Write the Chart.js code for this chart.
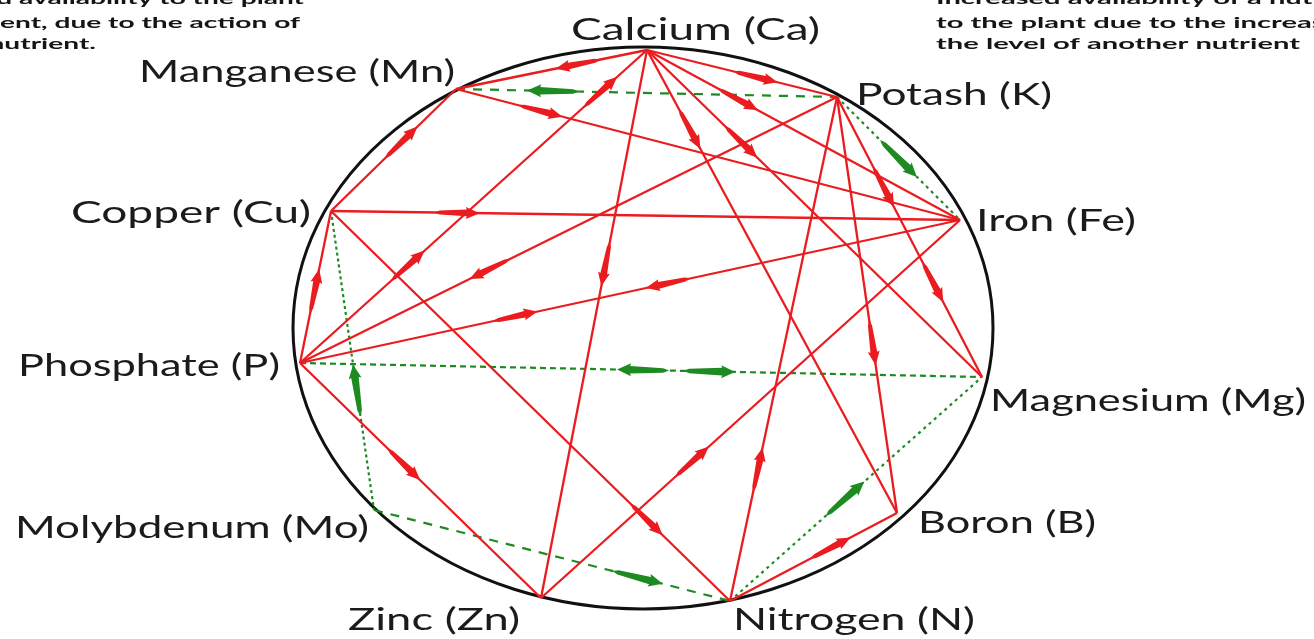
<!DOCTYPE html>
<html><head><meta charset="utf-8">
<script src="https://cdn.jsdelivr.net/npm/chart.js@4.4.1/dist/chart.umd.min.js"></script>
<style>html,body{margin:0;padding:0;background:#fff;overflow:hidden}canvas{display:block}</style>
</head><body>
<canvas id="c" width="1314" height="639"></canvas>
<script>
// ---------------- DATA ----------------
// Nutrient nodes (0 Ca, 1 Mn, 2 K, 3 Cu, 4 Fe, 5 P, 6 Mg, 7 Mo, 8 B, 9 Zn, 10 N)
const nutrients = ['Calcium (Ca)', 'Manganese (Mn)', 'Potash (K)', 'Copper (Cu)', 'Iron (Fe)',
  'Phosphate (P)', 'Magnesium (Mg)', 'Molybdenum (Mo)', 'Boron (B)', 'Zinc (Zn)', 'Nitrogen (N)'];
const nodeX = [647, 456, 837, 331, 960, 300, 982, 374, 897, 541, 730];
const nodeY = [50, 89, 97, 211, 220, 363, 377, 510, 513, 598, 601];

// Antagonism (red) edges: from-node / to-node
const antagonismFrom = [0, 0, 0, 0, 0, 0, 0, 1, 1, 2, 2, 2, 2, 3, 3, 3, 5, 5, 4, 10];
const antagonismTo   = [1, 5, 9, 2, 4, 8, 6, 3, 4, 6, 8, 10, 5, 5, 4, 10, 4, 9, 9, 8];
// Antagonism arrows: edge index, position along edge (0..1), direction (+1 toward "to")
const antArrowEdge = [0, 1, 1, 2, 3, 4, 5, 6, 7, 8, 9, 9, 10, 11, 12, 13, 14, 15, 16, 16, 17, 18, 19];
const antArrowPos  = [0.36, 0.135, 0.69, 0.39, 0.57, 0.29, 0.17, 0.28, 0.44, 0.167, 0.32, 0.66, 0.59, 0.74, 0.646, 0.53, 0.2, 0.79, 0.326, 0.558, 0.43, 0.64, 0.6];
const antArrowDir  = [1, -1, -1, 1, 1, 1, 1, 1, -1, 1, 1, 1, 1, -1, 1, -1, 1, 1, 1, -1, 1, -1, 1];

// Stimulation (green) edges
const stimulationFrom = [1, 2, 5, 3, 7, 10];
const stimulationTo   = [2, 4, 6, 7, 10, 6];
const stimArrowEdge = [0, 1, 2, 2, 3, 4, 5];
const stimArrowPos  = [0.255, 0.5, 0.503, 0.6, 0.6, 0.74, 0.456];
const stimArrowDir  = [-1, 1, -1, 1, -1, 1, 1];

// Legend text fragments (cut off at the image edges)
const noteLeft  = ['Decreased availability to the plant', 'of a nutrient, due to the action of', 'another nutrient.'];
const noteRight = ['Increased availability of a nutrient', 'to the plant due to the increase in', 'the level of another nutrient'];

// ---------------- STYLE / LAYOUT ----------------
const RED = '#ea1c1f', GREEN = '#1d8a22';
const stimDash = [[9, 8], [3, 4], [6, 4], [3, 3], [9, 8], [3, 4]];
const ring = {cx: 643, cy: 328, rx: 350, ry: 281};
// label boxes: left x, center y, width
const labelBox = [
  [571, 30, 249], [139, 72, 316], [856, 95, 196], [71, 213, 240], [976, 221, 160],
  [18, 366, 262], [990, 401, 316], [15, 528, 354], [918, 523, 178], [348, 620, 172], [733, 620, 242]
];

const antDatasets = antagonismFrom.map((a, i) => ({
  data: [{x: nodeX[a], y: nodeY[a]}, {x: nodeX[antagonismTo[i]], y: nodeY[antagonismTo[i]]}],
  showLine: true, borderColor: RED, borderWidth: 2.3, pointRadius: 0, order: 1
}));
const stimDatasets = stimulationFrom.map((a, i) => ({
  data: [{x: nodeX[a], y: nodeY[a]}, {x: nodeX[stimulationTo[i]], y: nodeY[stimulationTo[i]]}],
  showLine: true, borderColor: GREEN, borderWidth: 2.2, borderDash: stimDash[i], pointRadius: 0, order: 2
}));

function drawArrow(ctx, chart, from, to, t, dir, color, len, body, head) {
  const xs = chart.scales.x, ys = chart.scales.y;
  const x1 = xs.getPixelForValue(nodeX[from]), y1 = ys.getPixelForValue(nodeY[from]);
  const x2 = xs.getPixelForValue(nodeX[to]), y2 = ys.getPixelForValue(nodeY[to]);
  const px = x1 + (x2 - x1) * t, py = y1 + (y2 - y1) * t;
  let ang = Math.atan2(y2 - y1, x2 - x1);
  if (dir < 0) ang += Math.PI;
  ctx.save();
  ctx.translate(px, py);
  ctx.rotate(ang);
  ctx.beginPath();
  const h = len / 2;
  ctx.moveTo(-h, 0);
  ctx.lineTo(-h + 6, -body * 0.6);
  ctx.lineTo(h - 13, -body);
  ctx.lineTo(h - 14, -head);
  ctx.lineTo(h, 0);
  ctx.lineTo(h - 14, head);
  ctx.lineTo(h - 13, body);
  ctx.lineTo(-h + 6, body * 0.6);
  ctx.closePath();
  ctx.fillStyle = color;
  ctx.fill();
  ctx.restore();
}

const diagramPlugin = {
  id: 'diagram',
  beforeDatasetsDraw(chart) {
    const ctx = chart.ctx, xs = chart.scales.x, ys = chart.scales.y;
    const cx = xs.getPixelForValue(ring.cx), cy = ys.getPixelForValue(ring.cy);
    const rx = Math.abs(xs.getPixelForValue(ring.cx + ring.rx) - cx);
    const ry = Math.abs(ys.getPixelForValue(ring.cy + ring.ry) - cy);
    ctx.save();
    ctx.beginPath();
    ctx.ellipse(cx, cy, rx, ry, 0, 0, Math.PI * 2);
    ctx.lineWidth = 3;
    ctx.strokeStyle = '#111';
    ctx.stroke();
    ctx.restore();
  },
  afterDatasetsDraw(chart) {
    const ctx = chart.ctx;
    antArrowEdge.forEach((e, i) => drawArrow(ctx, chart, antagonismFrom[e], antagonismTo[e], antArrowPos[i], antArrowDir[i], RED, 46, 3.4, 6));
    stimArrowEdge.forEach((e, i) => drawArrow(ctx, chart, stimulationFrom[e], stimulationTo[e], stimArrowPos[i], stimArrowDir[i], GREEN, 52, 3.8, 6.5));

    // node labels
    ctx.save();
    ctx.fillStyle = '#1b1b1b';
    ctx.textBaseline = 'middle';
    ctx.font = '30px Lato';
    nutrients.forEach((name, i) => {
      const [lx, ly, w] = labelBox[i];
      const m = ctx.measureText(name).width;
      ctx.save();
      ctx.translate(lx, ly);
      ctx.scale(w / m, 1);
      ctx.fillText(name, 0, 0);
      ctx.restore();
    });
    // cut-off legend notes
    ctx.font = 'bold 15px Lato';
    ctx.fillStyle = '#151515';
    const sL = 300 / ctx.measureText('ent, due to the action of').width;
    const leftEnds = [304, 300, 96];
    noteLeft.forEach((s, i) => {
      ctx.save();
      ctx.translate(leftEnds[i], i === 0 ? -1 : 2 + i * 21);
      ctx.scale(sL, 1);
      ctx.textAlign = 'right';
      ctx.fillText(s, 0, 0);
      ctx.restore();
    });
    const sR = 364 / ctx.measureText(noteRight[2]).width;
    noteRight.forEach((s, i) => {
      ctx.save();
      ctx.translate(936, i === 0 ? -1 : 2 + i * 21);
      ctx.scale(sR, 1);
      ctx.textAlign = 'left';
      ctx.fillText(s, 0, 0);
      ctx.restore();
    });
    ctx.restore();
  }
};

new Chart(document.getElementById('c'), {
  type: 'scatter',
  data: {datasets: [...stimDatasets, ...antDatasets]},
  options: {
    responsive: false,
    animation: false,
    devicePixelRatio: 1,
    events: [],
    layout: {padding: 0},
    plugins: {legend: {display: false}, tooltip: {enabled: false}},
    scales: {
      x: {type: 'linear', min: 0, max: 1314, display: false},
      y: {type: 'linear', min: 0, max: 639, reverse: true, display: false}
    }
  },
  plugins: [diagramPlugin]
});
</script>
</body></html>
